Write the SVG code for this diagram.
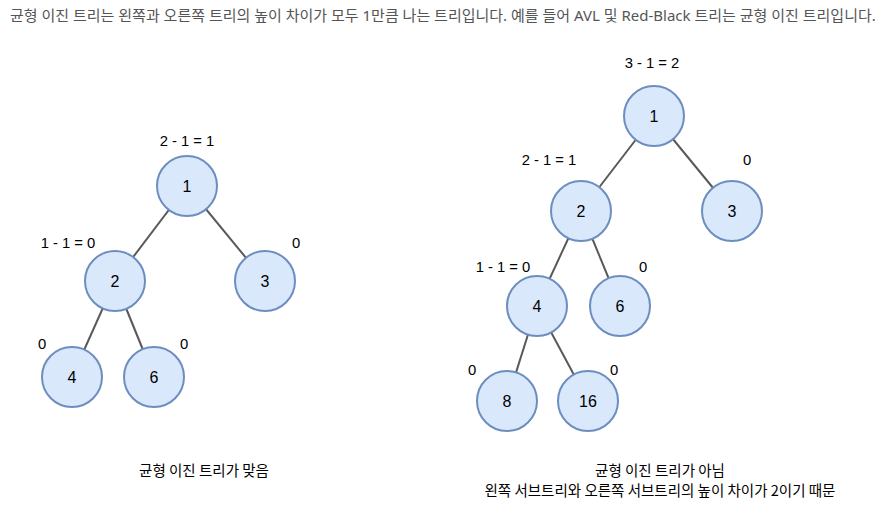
<svg xmlns="http://www.w3.org/2000/svg" width="882" height="512" viewBox="0 0 882 512">
<style>
.edge{stroke:#595959;stroke-width:2;fill:none}
.node circle{fill:#dae8fc;stroke:#6c8ebf;stroke-width:2}
.nl{font-family:"Liberation Sans",Arial,sans-serif;font-size:16px;fill:#000;text-anchor:middle}
.bl{font-family:"Liberation Sans",Arial,sans-serif;font-size:14.8px;fill:#000;text-anchor:middle}
.cap{font-family:"Noto Sans CJK KR","Noto Sans",sans-serif;font-size:14.5px;fill:#000;text-anchor:middle}
.top{font-family:"Noto Sans","Noto Sans CJK KR",sans-serif;font-size:15px;fill:#555}
</style>
<rect width="882" height="512" fill="#fff"/>
<text class="top" x="10" y="21">균형 이진 트리는 왼쪽과 오른쪽 트리의 높이 차이가 모두 1만큼 나는 트리입니다. 예를 들어 AVL 및 Red-Black 트리는 균형 이진 트리입니다.</text>
<g id="connectors">
<line class="edge" x1="187" y1="186" x2="115" y2="281"/>
<line class="edge" x1="187" y1="186" x2="265" y2="281"/>
<line class="edge" x1="115" y1="281" x2="72" y2="377"/>
<line class="edge" x1="115" y1="281" x2="154" y2="377"/>
<line class="edge" x1="654" y1="116" x2="581" y2="211"/>
<line class="edge" x1="654" y1="116" x2="732" y2="211"/>
<line class="edge" x1="581" y1="211" x2="537" y2="306"/>
<line class="edge" x1="581" y1="211" x2="620" y2="306"/>
<line class="edge" x1="537" y1="306" x2="507" y2="401"/>
<line class="edge" x1="537" y1="306" x2="588" y2="401"/>
</g>
<g id="L1" class="node"><circle cx="187" cy="186" r="30"/><text class="nl" x="187" y="192">1</text></g>
<g id="L2" class="node"><circle cx="115" cy="281" r="30"/><text class="nl" x="115" y="287">2</text></g>
<g id="L3" class="node"><circle cx="265" cy="281" r="30"/><text class="nl" x="265" y="287">3</text></g>
<g id="L4" class="node"><circle cx="72" cy="377" r="30"/><text class="nl" x="72" y="383">4</text></g>
<g id="L6" class="node"><circle cx="154" cy="377" r="30"/><text class="nl" x="154" y="383">6</text></g>
<g id="R1" class="node"><circle cx="654" cy="116" r="30"/><text class="nl" x="654" y="122">1</text></g>
<g id="R2" class="node"><circle cx="581" cy="211" r="30"/><text class="nl" x="581" y="217">2</text></g>
<g id="R3" class="node"><circle cx="732" cy="211" r="30"/><text class="nl" x="732" y="217">3</text></g>
<g id="R4" class="node"><circle cx="537" cy="306" r="30"/><text class="nl" x="537" y="312">4</text></g>
<g id="R6" class="node"><circle cx="620" cy="306" r="30"/><text class="nl" x="620" y="312">6</text></g>
<g id="R8" class="node"><circle cx="507" cy="401" r="30"/><text class="nl" x="507" y="407">8</text></g>
<g id="R16" class="node"><circle cx="588" cy="401" r="30"/><text class="nl" x="588" y="407">16</text></g>
<g id="balance-labels">
<text class="bl" x="187" y="146">2 - 1 = 1</text>
<text class="bl" x="68" y="248">1 - 1 = 0</text>
<text class="bl" x="296" y="248">0</text>
<text class="bl" x="42" y="349">0</text>
<text class="bl" x="184" y="349">0</text>
<text class="bl" x="652" y="68">3 - 1 = 2</text>
<text class="bl" x="549" y="165">2 - 1 = 1</text>
<text class="bl" x="747" y="165">0</text>
<text class="bl" x="503" y="272">1 - 1 = 0</text>
<text class="bl" x="643" y="272">0</text>
<text class="bl" x="472" y="375">0</text>
<text class="bl" x="614" y="375">0</text>
</g>
<g id="captions">
<text class="cap" x="204" y="476">균형 이진 트리가 맞음</text>
<text class="cap" x="660" y="476">균형 이진 트리가 아님</text>
<text class="cap" x="660" y="496">왼쪽 서브트리와 오른쪽 서브트리의 높이 차이가 2이기 때문</text>
</g>
</svg>
